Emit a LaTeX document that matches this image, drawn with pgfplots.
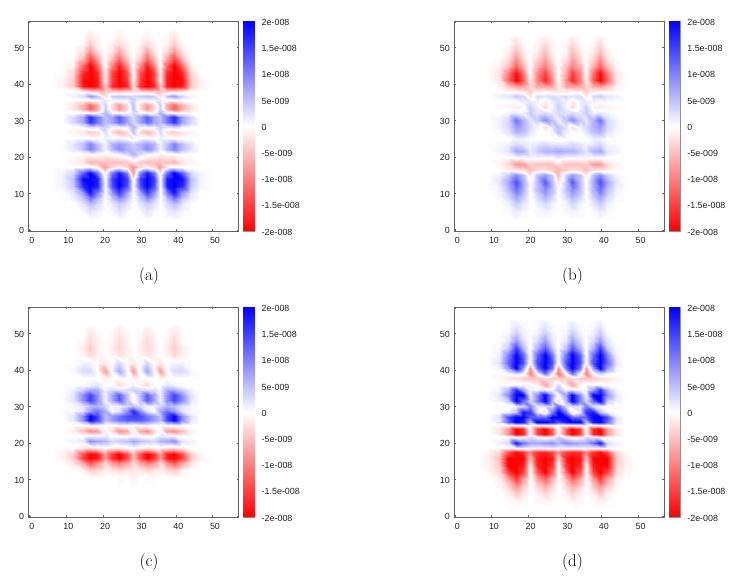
\documentclass[border=0pt]{standalone}
\usepackage{fontspec}
\usepackage{pgfplots}
\pgfplotsset{compat=1.18}
\newfontfamily\tickfont{Liberation Sans}
\pgfplotsset{colormap={rwb}{rgb=(1,0,0) rgb=(1,1,1) rgb=(0,0,1)}}
\def\xarr{{6,9,12,14.5,16.5,18.5,20.5,22.5,24.5,26.5,28.2,30.2,32,34,35.7,37.6,39.5,41.5,44,46.5,49.5}}
\gdef\acc{}
\newcommand\R[2]{\foreach \v [count=\i from 0] in {#2} {\pgfmathsetmacro\xv{\xarr[\i]}\xdef\acc{\acc (\xv,#1) [\v]}}}
% panel (a), values in units of 1e-9
\R{3}{0,0,0,0,0.5,0.5,0,0,0.5,0,0,0,0.5,0,0,0.5,0.5,0,0,0,0}
\R{5}{0,0,0,0.5,2,1,0,0.5,2,0.5,0,0.5,2,0.5,0,1,2,0.5,0,0,0}
\R{7}{0,0,0,2,5,3,0,2,4,2,0,2,4,2,0,3,5,2,0,0,0}
\R{8.5}{0,0,1,4,10,5,0,4,8,4,0,4,8,4,0,5,10,4,1,0,0}
\R{10}{0,0,2,8,18,10,0,8,15,7,0,7,15,8,0,10,18,8,2,0,0}
\R{12}{0,1,4,17,20,18,0,14,20,14,0,14,20,14,0,18,20,17,4,1,0}
\R{14}{0,1,5,19,20,18,0,15,20,15,-2,15,20,15,0,18,20,19,5,1,0}
\R{15.5}{0,1,3,13,20,12,-2,11,18,10,-8,10,18,11,-2,12,20,13,3,1,0}
\R{17.1}{0,0,0,0,1,-1,-8,-3,-1,-3,-9,-3,-1,-3,-8,-1,1,0,0,0,0}
\R{18.7}{0,0,-1,-2,-6,-5,-5,-5,-5,-4,-2,-4,-5,-5,-5,-5,-6,-2,-1,0,0}
\R{20.8}{0,0,0,0,0,0,-1,0,1,3,6,3,1,0,-1,0,0,0,0,0,0}
\R{22.2}{0,0,2,5,10,6,1,6,9,6,5,6,9,6,1,6,10,5,2,0,0}
\R{23.6}{0,0,2,5,10,5,1,6,8,6,4,6,8,6,1,5,10,5,2,0,0}
\R{25.1}{0,0,0,0,0,0,1,0,1,0,-2,0,1,0,1,0,0,0,0,0,0}
\R{26.7}{0,0,-1,-2,-4,-3,3,-3,-6,-3,5,-3,-6,-3,3,-3,-4,-2,-1,0,0}
\R{28.2}{0,0,0,1,3,2,4,1,1,1,6,1,1,1,4,2,3,1,0,0,0}
\R{29.5}{0,0,3,7,16,11,5,7,12,7,3,7,12,7,5,11,16,7,3,0,0}
\R{30.9}{0,0,3,7,17,11,5,7,13,7,3,7,13,7,5,11,17,7,3,0,0}
\R{32}{0,0,0,1,1,1,6,1,1,1,3,1,1,1,6,1,1,1,0,0,0}
\R{33}{0,0,-2,-6,-12,-7,4,-3,-8,-3,5,-3,-8,-3,4,-7,-12,-6,-2,0,0}
\R{34.2}{0,0,-2,-6,-12,-7,4,-3,-8,-3,5,-3,-8,-3,4,-7,-12,-6,-2,0,0}
\R{35.5}{0,0,0,0,0,0,2,1,1,1,4,1,1,1,2,0,0,0,0,0,0}
\R{36.7}{0,0,1,3,8,5,-3,4,5,4,3,4,5,4,-3,5,8,3,1,0,0}
\R{38.1}{0,0,0,-2,-4,-5,-5,-5,-5,-4,-3,-4,-5,-5,-5,-5,-4,-2,0,0,0}
\R{39.5}{0,-1,-4,-18,-20,-18,-4,-17,-20,-17,-2,-17,-20,-17,-4,-18,-20,-18,-4,-1,0}
\R{41}{0,-1,-4,-19,-20,-18,-1,-15,-20,-15,0,-15,-20,-15,-1,-18,-20,-19,-4,-1,0}
\R{43}{0,0,-3,-17,-20,-17,-1,-15,-20,-14,0,-14,-20,-15,-1,-17,-20,-17,-3,0,0}
\R{45}{0,0,-1,-12,-20,-13,0,-10,-18,-9,0,-9,-18,-10,0,-13,-20,-12,-1,0,0}
\R{47}{0,0,0,-5,-14,-7,0,-5,-11,-4,0,-4,-11,-5,0,-7,-14,-5,0,0,0}
\R{49}{0,0,0,-2,-8,-3,0,-2,-7,-2,0,-2,-7,-2,0,-3,-8,-2,0,0,0}
\R{51}{0,0,0,-0.5,-4,-1,0,-1,-3,-1,0,-1,-3,-1,0,-1,-4,-0.5,0,0,0}
\R{53}{0,0,0,0,-2,-0.5,0,0,-1,0,0,0,-1,0,0,-0.5,-2,0,0,0,0}
\R{55}{0,0,0,0,-0.5,0,0,0,-0.5,0,0,0,-0.5,0,0,0,-0.5,0,0,0,0}
\global\let\panelA\acc \gdef\acc{}
% panel (b)
\R{3}{0,0,0,0,0.5,0,0,0,0.5,0,0,0,0.5,0,0,0,0.5,0,0,0,0}
\R{5}{0,0,0,0.5,1.5,0.5,0,0.5,1,0.5,0,0.5,1,0.5,0,0.5,1.5,0.5,0,0,0}
\R{7}{0,0,0,1,4,2,0,1,3,1,0,1,3,1,0,2,4,1,0,0,0}
\R{9}{0,0,0.5,3,7,4,0,3,6,3,0,3,6,3,0,4,7,3,0.5,0,0}
\R{11}{0,0,1,5,11,6,0,5,9,5,0,5,9,5,0,6,11,5,1,0,0}
\R{13}{0,0,2,7,14,7,0,5,13,5,-2,5,13,5,0,7,14,7,2,0,0}
\R{15}{0,0,1,4,9,5,-2,5,8,4,-6,4,8,5,-2,5,9,4,1,0,0}
\R{16.5}{0,0,0,-1,-2,-2,-5,-3,-2,-4,-6,-4,-2,-3,-5,-2,-2,-1,0,0,0}
\R{18}{0,0,-1,-3,-8,-8,-4,-5,-5,-5,-3,-5,-5,-5,-4,-8,-8,-3,-1,0,0}
\R{20}{0,0,0,0,1,1,1,1,1,1,2,1,1,1,1,1,1,0,0,0,0}
\R{21.5}{0,0,1,2,7,6,2,4,6,6,7,6,6,4,2,6,7,2,1,0,0}
\R{23.5}{0,0,0.5,1,3,2,1,2,3,2,2,2,3,2,1,2,3,1,0.5,0,0}
\R{25}{0,0,0,0,1,1,0,0,0,0,-1,0,0,0,0,1,1,0,0,0,0}
\R{26.7}{0,0,0.5,2,6,5,2,0,0,1,5,1,0,0,2,5,6,2,0.5,0,0}
\R{28.2}{0,0,1,3,8,6,3,1,-3,2,5,2,-3,1,3,6,8,3,1,0,0}
\R{30.2}{0,0,1,3,11,6,2,4,9,5,1,5,9,4,2,6,11,3,1,0,0}
\R{32}{0,0,0,1,2,1,4,2,3,2,3,2,3,2,4,1,2,1,0,0,0}
\R{33.6}{0,0,-0.5,-1,-2,-1,4,1,-3,1,4,1,-3,1,4,-1,-2,-1,-0.5,0,0}
\R{35}{0,0,0,0,0,1,2,1,-2,1,3,1,-2,1,2,1,0,0,0,0,0}
\R{36.7}{0,0,1,2,4,3,-2,3,2,3,2,3,2,3,-2,3,4,2,1,0,0}
\R{38.1}{0,0,0,-1,-1,-2,-4,-2,-1,-2,-2,-2,-1,-2,-4,-2,-1,-1,0,0,0}
\R{39.5}{0,0,-1,-5,-8,-7,-3,-7,-8,-7,-1,-7,-8,-7,-3,-7,-8,-5,-1,0,0}
\R{41}{0,0,-2,-12,-20,-13,-1,-10,-17,-9,0,-9,-17,-10,-1,-13,-20,-12,-2,0,0}
\R{43}{0,0,-2,-10,-19,-11,0,-9,-15,-7,0,-7,-15,-9,0,-11,-19,-10,-2,0,0}
\R{45}{0,0,-1,-5,-12,-6,0,-6,-10,-5,0,-5,-10,-6,0,-6,-12,-5,-1,0,0}
\R{47}{0,0,0,-2,-8,-3,0,-3,-7,-2,0,-2,-7,-3,0,-3,-8,-2,0,0,0}
\R{49}{0,0,0,-1,-5,-1.5,0,-1.5,-5,-1,0,-1,-5,-1.5,0,-1.5,-5,-1,0,0,0}
\R{51}{0,0,0,0,-3,-0.5,0,-0.5,-3,-0.5,0,-0.5,-3,-0.5,0,-0.5,-3,0,0,0,0}
\R{53}{0,0,0,0,-1,0,0,0,-1,0,0,0,-1,0,0,0,-1,0,0,0,0}
\global\let\panelB\acc \gdef\acc{}
% panel (c)
\R{8}{0,0,0,0,0,0,0,0,0,0,-0.5,0,0,0,0,0,0,0,0,0,0}
\R{10.5}{0,0,0,0,0,0,0,0,0.5,0,-1,0,0.5,0,0,0,0,0,0,0,0}
\R{12.5}{0,0,0,-1,-4,-3,-1,-2,-3,-2,-2,-2,-3,-2,-1,-3,-4,-1,0,0,0}
\R{14.5}{0,0,-2,-7,-13,-9,-3,-8,-10,-7,-3,-7,-10,-8,-3,-9,-13,-7,-2,0,0}
\R{15.8}{0,-1,-4,-15,-20,-18,-8,-16,-20,-14,-5,-14,-20,-16,-8,-18,-20,-15,-4,-1,0}
\R{17}{0,-1,-4,-14,-20,-18,-8,-16,-20,-14,-5,-14,-20,-16,-8,-18,-20,-14,-4,-1,0}
\R{18.6}{0,0,0,-2,-3,-2,-1,-1,-2,-1,0,-1,-2,-1,-1,-2,-3,-2,0,0,0}
\R{20.4}{0,0,1,2,9,7,6,3,4,5,7,5,4,3,6,7,9,2,1,0,0}
\R{21.8}{0,0,0,0,1,1,2,0,0,0,1,0,0,0,2,1,1,0,0,0,0}
\R{23.2}{0,0,-1,-5,-9,-8,1,-3,-9,-7,2,-7,-9,-3,1,-8,-9,-5,-1,0,0}
\R{25}{0,0,0,0,1,1,0,0,1,1,-1,1,1,0,0,1,1,0,0,0,0}
\R{26.2}{0,0,2,9,20,15,5,8,11,13,13,13,11,8,5,15,20,9,2,0,0}
\R{27.4}{0,0,2,9,20,15,5,8,11,14,15,14,11,8,5,15,20,9,2,0,0}
\R{28.8}{0,0,0.5,2,8,11,7,0,2,9,17,9,2,0,7,11,8,2,0.5,0,0}
\R{30.2}{0,0,0.5,2,5,6,3,1,1,3,5,3,1,1,3,6,5,2,0.5,0,0}
\R{31.8}{0,0,2,9,15,9,1,7,13,5,-1,5,13,7,1,9,15,9,2,0,0}
\R{33}{0,0,2,9,15,9,1,7,13,5,-1,5,13,7,1,9,15,9,2,0,0}
\R{34.6}{0,0,1,4,7,7,1,3,3,3,4,3,3,3,1,7,7,4,1,0,0}
\R{36}{0,0,0,0,1,2,0,0,-3,-1,1,-1,-3,0,0,2,1,0,0,0,0}
\R{37.7}{0,0,0,0,0,0,-1,0,0,0,-1,0,0,0,-1,0,0,0,0,0,0}
\R{39.6}{0,0,0.5,3,3,0,-8,1,7,1,-8,1,7,1,-8,0,3,3,0.5,0,0}
\R{42}{0,0,0,1,1,0,-2,0,3,0,-2,0,3,0,-2,0,1,1,0,0,0}
\R{44}{0,0,0,-1,-3,-1,0,-1,-2,-1,0,-1,-2,-1,0,-1,-3,-1,0,0,0}
\R{46}{0,0,0,-1.5,-4,-1.5,0,-1.5,-3,-1.5,0,-1.5,-3,-1.5,0,-1.5,-4,-1.5,0,0,0}
\R{48}{0,0,0,-0.5,-3,-1,0,-1,-3,-1,0,-1,-3,-1,0,-1,-3,-0.5,0,0,0}
\R{50}{0,0,0,0,-2,-0.5,0,-0.5,-2,-0.5,0,-0.5,-2,-0.5,0,-0.5,-2,0,0,0,0}
\R{52}{0,0,0,0,-1,0,0,0,-1,0,0,0,-1,0,0,0,-1,0,0,0,0}
\global\let\panelC\acc \gdef\acc{}
% panel (d)
\R{2}{0,0,0,0,0,0,0,0,0,0,0,0,0,0,0,0,0,0,0,0,0}
\R{4}{0,0,0,-0.5,-1,-0.5,0,-0.5,-1,-0.5,0,-0.5,-1,-0.5,0,-0.5,-1,-0.5,0,0,0}
\R{6}{0,0,0,-1,-4,-1.5,0,-1,-3,-1,0,-1,-3,-1,0,-1.5,-4,-1,0,0,0}
\R{8}{0,0,-0.5,-3,-8,-4,0,-3,-6,-3,0,-3,-6,-3,0,-4,-8,-3,-0.5,0,0}
\R{10}{0,0,-1,-7,-15,-8,0,-7,-12,-6,0,-6,-12,-7,0,-8,-15,-7,-1,0,0}
\R{12}{0,-0.5,-3,-15,-20,-15,0,-13,-20,-12,0,-12,-20,-13,0,-15,-20,-15,-3,-0.5,0}
\R{14}{0,-1,-4,-20,-20,-18,-1,-17,-20,-16,0,-16,-20,-17,-1,-18,-20,-20,-4,-1,0}
\R{16}{0,-1,-5,-20,-20,-20,-5,-18,-20,-18,-3,-18,-20,-18,-5,-20,-20,-20,-5,-1,0}
\R{17.5}{0,-0.5,-3,-14,-19,-16,-10,-16,-17,-15,-9,-15,-17,-16,-10,-16,-19,-14,-3,-0.5,0}
\R{18.7}{0,0,0,0,1,1,1,1,1,1,1,1,1,1,1,1,1,0,0,0,0}
\R{20}{0,0,1,3,18,11,7,7,8,9,6,9,8,7,7,11,18,3,1,0,0}
\R{21.6}{0,0,0,0,-1,1,3,0,-1,1,4,1,-1,0,3,1,-1,0,0,0,0}
\R{22.5}{0,0,-2,-8,-20,-17,1,-15,-20,-13,1,-13,-20,-15,1,-17,-20,-8,-2,0,0}
\R{23.7}{0,0,-2,-8,-20,-17,1,-15,-20,-13,1,-13,-20,-15,1,-17,-20,-8,-2,0,0}
\R{24.8}{0,0,0,0,1,0,1,1,1,1,0,1,1,1,1,0,1,0,0,0,0}
\R{25.8}{0,0,2,12,20,18,5,20,20,18,14,18,20,20,5,18,20,12,2,0,0}
\R{27}{0,0,2,14,20,20,13,12,12,20,20,20,12,12,13,20,20,14,2,0,0}
\R{28.5}{0,0,0,1,5,18,16,2,-3,10,20,10,-3,2,16,18,5,1,0,0,0}
\R{30}{0,0,-0.5,-1,1,3,10,2,3,3,12,3,3,2,10,3,1,-1,-0.5,0,0}
\R{31.5}{0,0,1,4,20,12,3,10,20,6,-4,6,20,10,3,12,20,4,1,0,0}
\R{33}{0,0,2,9,20,20,1,9,20,8,0,8,20,9,1,20,20,9,2,0,0}
\R{34.5}{0,0,1,6,17,8,1,1,3,1,6,1,3,1,1,8,17,6,1,0,0}
\R{36}{0,0,0,0,1,1,1,-1,-7,-2,3,-2,-7,-1,1,1,1,0,0,0,0}
\R{37.8}{0,0,-1,-2,-3,-4,-5,-4,-3,-4,-4,-4,-3,-4,-5,-4,-3,-2,-1,0,0}
\R{39.2}{0,0,0,1,4,1,-10,1,12,1,-11,1,12,1,-10,1,4,1,0,0,0}
\R{40.5}{0,0,1,8,20,8,-8,11,20,11,-8,11,20,11,-8,8,20,8,1,0,0}
\R{42}{0,0,2,12,20,14,-1,14,20,14,-1,14,20,14,-1,14,20,12,2,0,0}
\R{44}{0,0,1,10,20,12,0,12,20,11,0,11,20,12,0,12,20,10,1,0,0}
\R{46}{0,0,0.5,4,15,6,0,6,13,5,0,5,13,6,0,6,15,4,0.5,0,0}
\R{48}{0,0,0,2,8,3,0,3,8,2,0,2,8,3,0,3,8,2,0,0,0}
\R{50}{0,0,0,0.5,4,1,0,1,4,1,0,1,4,1,0,1,4,0.5,0,0,0}
\R{52}{0,0,0,0,2,0.5,0,0.5,2,0.5,0,0.5,2,0.5,0,0.5,2,0,0,0,0}
\R{54}{0,0,0,0,0.5,0,0,0,0.5,0,0,0,0.5,0,0,0,0.5,0,0,0,0}
\global\let\panelD\acc \gdef\acc{}
\definecolor{axc}{gray}{0.38}
\definecolor{txc}{gray}{0.12}
\newcommand\meshplot[1]{\addplot[surf,shader=interp,mesh/cols=21,point meta=explicit] coordinates {#1};}
\pgfplotsset{common/.style={
  scale only axis,
  colormap name=rwb,
  point meta min=-20,point meta max=20,
  axis line style={axc,line width=0.6pt},
  tick style={axc,line width=0.4pt},
  major tick length=2pt,
  tick align=inside,
  ticklabel style={font=\tickfont\fontsize{8.9}{10}\selectfont,text=txc},
  /pgf/number format/assume math mode=true,
  /pgf/number format/fixed,
}}
\newcommand\panel[3]{%
  \begin{axis}[common,at={(#1pt,#2pt)},anchor=south west,width=210pt,height=209.5pt,
    xmin=-0.2,xmax=57.1,ymin=-0.3,ymax=57.1,
    xtick={0,10,...,50},ytick={0,10,...,50},
    xticklabel style={xshift=2.3pt,yshift=-2.5pt},
    yticklabel style={xshift=-1pt,yshift=-0.8pt}]
    \expandafter\meshplot\expandafter{#3}
  \end{axis}
  \pgfmathsetmacro\cbx{#1+214.7}
  \begin{axis}[common,at={(\cbx pt,#2pt)},anchor=south west,width=10.8pt,height=209.5pt,
    xmin=0,xmax=1,ymin=-20,ymax=20,
    xtick=\empty,
    ytick={-20,-15,-10,-5,0,5,10,15,20},
    yticklabels={-2e-008,-1.5e-008,-1e-008,-5e-009,0,5e-009,1e-008,1.5e-008,2e-008},
    ytick pos=right,yticklabel pos=right,
    axis line style={axc!70,line width=0.5pt},
    tick align=inside,major tick length=10.8pt,
    tick style={black!55,line width=0.35pt,dashed},
    yticklabel style={anchor=west,xshift=4pt,yshift=-1pt}]
    \addplot[surf,shader=interp,mesh/cols=2,point meta=explicit] coordinates {(0,-20) [-20] (1,-20) [-20] (0,0) [0] (1,0) [0] (0,20) [20] (1,20) [20]};
  \end{axis}
}
\begin{document}
\begin{tikzpicture}
\path[use as bounding box] (0pt,0pt) rectangle (739pt,585pt);
\panel{28.7}{354}{\panelA}
\panel{454.3}{354}{\panelB}
\panel{28.7}{68}{\panelC}
\panel{454.3}{68}{\panelD}
\node[font=\fontsize{17}{20}\selectfont] at (149pt,308.5pt) {(a)};
\node[font=\fontsize{17}{20}\selectfont] at (572.5pt,308.5pt) {(b)};
\node[font=\fontsize{17}{20}\selectfont] at (149pt,23pt) {(c)};
\node[font=\fontsize{17}{20}\selectfont] at (572.5pt,23pt) {(d)};
\end{tikzpicture}
\end{document}
